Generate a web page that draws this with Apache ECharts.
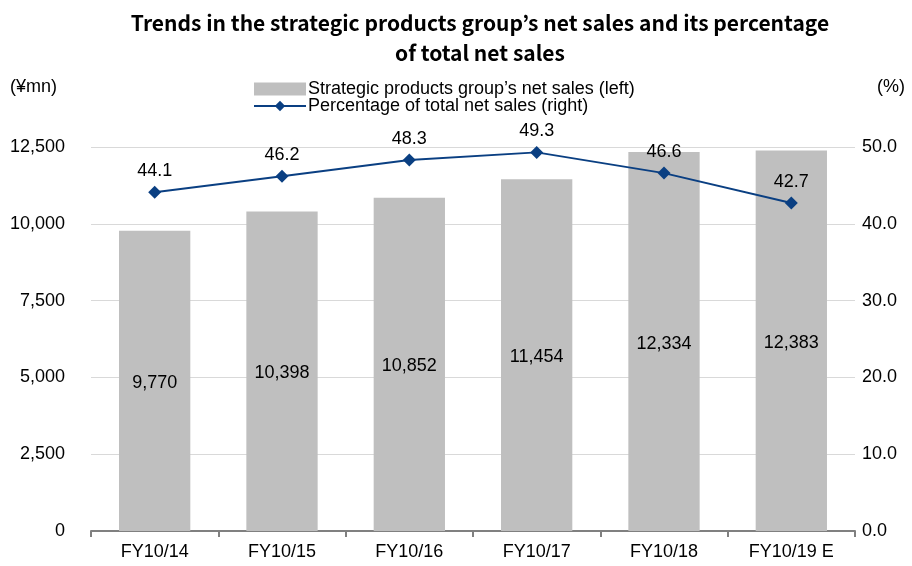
<!DOCTYPE html>
<html>
<head>
<meta charset="utf-8">
<script src="https://cdn.jsdelivr.net/npm/echarts@6/dist/echarts.min.js"></script>
<style>
  html, body { margin: 0; padding: 0; background: #fff; }
  #chart { width: 912px; height: 566px; }
</style>
</head>
<body>
<div id="chart"></div>
<script>
    // 数据
    var categories = ['FY10/14', 'FY10/15', 'FY10/16', 'FY10/17', 'FY10/18', 'FY10/19 E'];
    var netSales = [9770, 10398, 10852, 11454, 12334, 12383];
    var percentage = [44.1, 46.2, 48.3, 49.3, 46.6, 42.7];

    var barName = 'Strategic products group’s net sales (left)';
    var lineName = 'Percentage of total net sales (right)';
    var font = '"Liberation Sans", Arial, sans-serif';

    var chart = echarts.init(document.getElementById('chart'));
    var option = {
        animation: false,
        title: {
            text: 'Trends in the strategic products group’s net sales and its percentage\nof total net sales',
            left: 475,
            textAlign: 'center',
            top: 3,
            textStyle: {
                fontFamily: '"Noto Sans CJK JP", sans-serif',
                fontWeight: 'bold',
                fontSize: 21,
                lineHeight: 30,
                color: '#000'
            }
        },
        legend: {
            orient: 'vertical',
            left: 248,
            top: 75,
            itemWidth: 52,
            itemHeight: 13,
            itemGap: -1,
            textStyle: { fontFamily: font, fontSize: 18, color: '#000', padding: [0, 0, 0, -3] },
            data: [
                { name: barName, icon: 'rect' },
                { name: lineName }
            ]
        },
        graphic: [
            { type: 'text', left: 10, top: 78, style: { text: '(¥mn)', font: '18px ' + font, fill: '#000' } },
            { type: 'text', left: 877, top: 78, style: { text: '(%)', font: '18px ' + font, fill: '#000' } }
        ],
        grid: {
            left: 91,
            right: 57,
            top: 147,
            bottom: 35
        },
        xAxis: {
            type: 'category',
            data: categories,
            axisLine: { lineStyle: { color: '#808080', width: 2 } },
            axisTick: { show: true, length: 6, lineStyle: { color: '#808080', width: 2 } },
            axisLabel: { fontFamily: font, fontSize: 18, color: '#000', margin: 12 }
        },
        yAxis: [
            {
                type: 'value',
                min: 0,
                max: 12500,
                interval: 2500,
                axisLine: { show: false },
                axisTick: { show: false },
                splitLine: { lineStyle: { color: '#d9d9d9', width: 1 } },
                axisLabel: {
                    fontFamily: font, fontSize: 18, color: '#000', margin: 26,
                    formatter: function (v) { return v.toLocaleString('en-US'); }
                }
            },
            {
                type: 'value',
                min: 0,
                max: 50,
                interval: 10,
                axisLine: { show: false },
                axisTick: { show: false },
                splitLine: { show: false },
                axisLabel: {
                    fontFamily: font, fontSize: 18, color: '#000', margin: 7,
                    formatter: function (v) { return v.toFixed(1); }
                }
            }
        ],
        series: [
            {
                name: barName,
                type: 'bar',
                data: netSales,
                barWidth: '56%',
                itemStyle: { color: '#bfbfbf' },
                label: {
                    show: true,
                    position: 'inside',
                    fontFamily: font,
                    fontSize: 18,
                    color: '#000',
                    offset: [0, 2],
                    formatter: function (p) { return p.value.toLocaleString('en-US'); }
                }
            },
            {
                name: lineName,
                type: 'line',
                yAxisIndex: 1,
                data: percentage,
                symbol: 'diamond',
                symbolSize: 13,
                lineStyle: { color: '#0a3f82', width: 2 },
                itemStyle: { color: '#0a3f82' },
                label: {
                    show: true,
                    position: 'top',
                    distance: 6,
                    fontFamily: font,
                    fontSize: 18,
                    color: '#000',
                    formatter: function (p) { return p.value.toFixed(1); }
                }
            }
        ]
    };
    chart.setOption(option, true);
</script>
</body>
</html>
